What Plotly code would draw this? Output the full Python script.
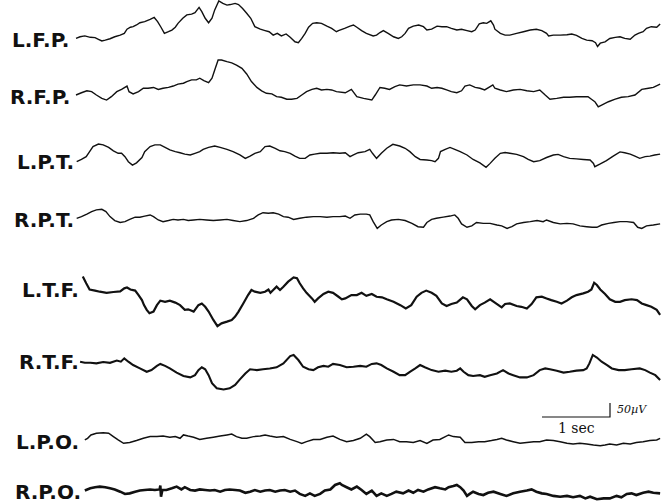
import plotly.graph_objects as go

# ---- EEG channel data: time (s) and amplitude (µV) at each traced vertex ----
CHANNELS = ["L.F.P.", "R.F.P.", "L.P.T.", "R.P.T.", "L.T.F.", "R.T.F.", "L.P.O.", "R.P.O."]

LFP_T = [0.00, 0.06, 0.13, 0.21, 0.28, 0.33, 0.38, 0.43, 0.50, 0.57, 0.65, 0.71, 0.75, 0.80, 0.84,
         0.89, 0.94, 1.01, 1.09, 1.15, 1.20, 1.25, 1.30, 1.36, 1.41, 1.46, 1.50, 1.57, 1.63, 1.70,
         1.75, 1.81, 1.85, 1.90, 1.95, 2.00, 2.04, 2.10, 2.16, 2.22, 2.27, 2.34, 2.39, 2.45, 2.51,
         2.57, 2.63, 2.71, 2.78, 2.84, 2.90, 2.96, 3.02, 3.09, 3.15, 3.22, 3.27, 3.32, 3.37, 3.42,
         3.48, 3.54, 3.61, 3.69, 3.76, 3.83,
         3.86, 3.95, 4.03, 4.08, 4.13, 4.20, 4.27, 4.37, 4.42, 4.47, 4.52, 4.59, 4.67, 4.74, 4.79,
         4.84, 4.89, 4.96, 5.04, 5.11, 5.16, 5.23, 5.31, 5.38, 5.45, 5.52, 5.60, 5.67, 5.75, 5.82,
         5.87, 5.93, 5.99, 6.04, 6.10, 6.14, 6.16, 6.24, 6.31, 6.38, 6.48, 6.58, 6.68, 6.77, 6.85,
         6.92, 6.95, 7.02, 7.12, 7.22, 7.29, 7.36, 7.44, 7.51, 7.59, 7.64, 7.67, 7.71, 7.78, 7.85,
         7.93, 8.00, 8.07, 8.15, 8.22, 8.27, 8.34, 8.39, 8.46, 8.54, 8.59]
LFP_UV = [2, 8, 11, 6, 5, -1, -7, -4, 1, 8, 14, 20, 35, 42, 44,
          50, 58, 62, 70, 77, 62, 42, 20, 26, 32, 42, 56, 74, 86, 89,
          94, 113, 98, 74, 58, 74, 104, 136, 127, 121, 123, 127, 123, 109, 92,
          74, 44, 35, 30, 26, 14, 20, 11, 18, 6, -10, -13, 2, 20, 42,
          56, 58, 56, 46, 38, 26,
          30, 38, 46, 50, 42, 30, 20, 11, 14, 23, 30, 20, 8, 2, 8,
          20, 38, 46, 50, 44, 32, 35, 46, 44, 44, 38, 32, 35, 30, 26,
          32, 54, 58, 56, 65, 50, 35, 20, 14, 14, 20, 26, 32, 35, 30,
          20, 11, 14, 14, 15, 18, 13, 2, -4, -6, -13, -27, -15, -10, 2,
          6, 8, 2, -1, 14, 20, 26, 38, 44, 42, 54]

RFP_T = [0.00, 0.08, 0.16, 0.23, 0.30, 0.38, 0.45, 0.52, 0.60, 0.67, 0.75, 0.78, 0.84, 0.92, 0.99,
         1.06, 1.14, 1.21, 1.28, 1.36, 1.43, 1.50, 1.58, 1.63, 1.70, 1.77, 1.82, 1.88, 1.95, 2.00,
         2.04, 2.09, 2.14, 2.22, 2.29, 2.36, 2.44, 2.51, 2.58, 2.66, 2.73, 2.80, 2.88, 2.95, 3.02,
         3.10, 3.17, 3.25, 3.32, 3.39, 3.47, 3.54, 3.61, 3.69, 3.76, 3.83,
         3.96, 4.05, 4.13, 4.23, 4.35, 4.40, 4.47, 4.54, 4.61, 4.69, 4.76, 4.86, 4.96, 5.06, 5.16,
         5.23, 5.31, 5.38, 5.45, 5.52, 5.60, 5.67, 5.72, 5.79, 5.87, 5.94, 6.01, 6.09, 6.13, 6.16,
         6.24, 6.33, 6.43, 6.53, 6.63, 6.73, 6.82, 6.90, 6.97, 7.07, 7.17, 7.26, 7.36, 7.46, 7.53,
         7.58, 7.63, 7.68, 7.73, 7.83, 7.93, 8.02, 8.12, 8.22, 8.32, 8.42, 8.49, 8.59]
RFP_UV = [0, 8, 15, 12, 0, -12, -18, -6, 12, 20, 32, 12, 4, 12, 24,
          24, 27, 20, 24, 27, 32, 39, 42, 48, 54, 54, 60, 51, 44, 60,
          89, 125, 125, 119, 115, 107, 95, 75, 48, 27, 15, 6, 4, -6, -8,
          -15, -15, -12, 0, 12, 20, 24, 18, 20, 18, 12,
          8, 20, -6, -12, -18, 0, 27, 24, 20, 30, 36, 32, 36, 36, 32,
          24, 27, 24, 18, 12, 8, 15, 32, 36, 27, 24, 18, 30, 36, 24,
          18, 12, 18, 20, 15, 12, 18, 0, -15, -12, -8, -8, -6, -6, -6,
          -15, -24, -42, -36, -24, -15, -8, -6, 0, 20, 24, 27, 39]

LPT_T = [0.01, 0.08, 0.15, 0.20, 0.25, 0.33, 0.40, 0.48, 0.55, 0.62, 0.67, 0.72, 0.77, 0.83, 0.89,
         0.97, 1.01, 1.09, 1.16, 1.24, 1.31, 1.38, 1.46, 1.53, 1.60, 1.68, 1.75, 1.82, 1.87, 1.95,
         2.04, 2.12, 2.22, 2.31, 2.41, 2.49, 2.56, 2.63, 2.71, 2.78, 2.85, 2.93, 3.00, 3.07, 3.15,
         3.22, 3.29, 3.37, 3.44, 3.51, 3.59, 3.69, 3.78,
         3.88, 3.96, 4.03, 4.08, 4.15, 4.25, 4.32, 4.36, 4.42, 4.49, 4.57, 4.66, 4.76, 4.84, 4.91,
         4.99, 5.06, 5.16, 5.23, 5.28, 5.33, 5.36, 5.43, 5.50, 5.57, 5.65, 5.75, 5.84, 5.94, 6.03,
         6.09, 6.16, 6.24, 6.31, 6.38, 6.48, 6.58, 6.65, 6.73, 6.82, 6.92, 7.02, 7.09, 7.17, 7.26,
         7.36, 7.46, 7.56, 7.61, 7.63, 7.71, 7.80, 7.90, 8.00, 8.07, 8.15, 8.22, 8.29, 8.37, 8.44,
         8.51, 8.59]
LPT_UV = [0, 8, 18, 36, 54, 63, 60, 51, 39, 30, 30, 18, 0, -12, -4,
          15, 36, 54, 60, 60, 51, 42, 36, 32, 27, 24, 30, 36, 44, 51,
          56, 51, 44, 36, 24, 12, 20, 30, 36, 54, 56, 48, 39, 36, 30,
          20, 12, 12, 24, 27, 30, 30, 32,
          30, 32, 18, 24, 32, 36, 44, 30, 12, 30, 48, 62, 56, 48, 36,
          18, 8, 6, 4, 0, 12, 36, 44, 51, 44, 36, 24, 8, -4, -20,
          -6, 12, 30, 33, 30, 26, 18, 8, 0, 4, 15, 24, 26, 18, 12,
          10, 8, 6, -6, -18, -8, 4, 20, 35, 32, 27, 20, 12, 18, 20,
          24, 27]

RPT_T = [0.01, 0.08, 0.16, 0.23, 0.30, 0.38, 0.44, 0.50, 0.57, 0.65, 0.72, 0.79, 0.87, 0.94, 1.01,
         1.09, 1.14, 1.21, 1.28, 1.36, 1.43, 1.50, 1.58, 1.65, 1.73, 1.82, 1.92, 2.02, 2.12, 2.22,
         2.31, 2.41, 2.51, 2.61, 2.68, 2.75, 2.83, 2.90, 2.98, 3.05, 3.12, 3.20, 3.29, 3.39, 3.49,
         3.59, 3.69, 3.78,
         3.88, 3.96, 4.03, 4.10, 4.18, 4.27, 4.32, 4.37, 4.43, 4.49, 4.57, 4.64, 4.74, 4.84, 4.94,
         5.03, 5.11, 5.16, 5.23, 5.30, 5.40, 5.50, 5.57, 5.62, 5.67, 5.75, 5.82, 5.89, 5.99, 6.09,
         6.19, 6.26, 6.34, 6.41, 6.48, 6.58, 6.68, 6.78, 6.87, 6.92, 7.02, 7.12, 7.22, 7.31, 7.41,
         7.51, 7.59, 7.66, 7.73, 7.83, 7.91, 8.00, 8.10, 8.20, 8.26, 8.32, 8.39, 8.49, 8.59]
RPT_UV = [0, 6, 15, 24, 30, 32, 24, 6, -8, -15, -12, -4, 4, 4, 8,
          12, 6, -6, -12, -8, -4, -6, -4, -8, -6, -4, -6, -8, -6, -4,
          -8, -12, -8, 0, 12, 20, 18, 20, 15, 6, 4, -4, 0, 4, 6,
          6, 4, 6,
          6, 8, 0, 12, 15, 15, 12, -12, -36, -24, -12, -6, -4, -8, -18,
          -30, -32, -15, -4, 0, 4, 8, 12, 0, -20, -32, -27, -15, -18, -18,
          -24, -27, -36, -30, -20, -15, -12, -8, -12, -6, -15, -20, -18, -20, -27,
          -30, -32, -32, -24, -18, -15, -12, -12, -15, -32, -36, -27, -24, -20]

LTF_T = [0.10, 0.15, 0.20, 0.28, 0.35, 0.45, 0.55, 0.65, 0.71, 0.75, 0.80, 0.87, 0.92, 0.97, 1.00,
         1.04, 1.08, 1.14, 1.19, 1.24, 1.31, 1.38, 1.46, 1.53, 1.60, 1.65, 1.73, 1.80, 1.85, 1.90,
         1.95, 2.02, 2.08, 2.14, 2.22, 2.29, 2.34, 2.39, 2.46, 2.53, 2.58, 2.63, 2.71, 2.78, 2.83,
         2.86, 2.90, 2.95, 3.00, 3.05, 3.12, 3.20, 3.25, 3.29, 3.34, 3.39, 3.47, 3.51, 3.56, 3.64,
         3.71, 3.78, 3.86,
         3.91, 3.96, 4.05, 4.13, 4.20, 4.27, 4.35, 4.42, 4.50, 4.57, 4.67, 4.77, 4.85, 4.93, 5.01,
         5.08, 5.15, 5.23, 5.30, 5.38, 5.45, 5.52, 5.60, 5.69, 5.75, 5.82, 5.87, 5.94, 6.01, 6.09,
         6.16, 6.26, 6.31, 6.38, 6.48, 6.55, 6.63, 6.70, 6.77, 6.85, 6.92, 6.99, 7.07, 7.14, 7.22,
         7.29, 7.36, 7.46, 7.53, 7.58, 7.62, 7.66, 7.71, 7.78, 7.85, 7.93, 8.00, 8.07, 8.17, 8.25,
         8.32, 8.39, 8.46, 8.54, 8.59]
LTF_UV = [54, 30, 8, 4, 0, -4, -1, 1, 12, 15, 8, 4, -12, -30, -48,
          -65, -77, -71, -48, -32, -36, -32, -39, -48, -65, -63, -71, -48, -42, -54,
          -71, -101, -123, -113, -107, -101, -89, -71, -42, -12, 6, 0, -4, 0, 8,
          -4, 6, 18, 6, 18, 36, 51, 48, 30, 12, -4, -24, -36, -24, -8,
          0, -4, -18,
          -27, -24, -12, -12, -4, -15, -8, -18, -20, -27, -36, -48, -60, -48, -18,
          -4, 4, -4, -15, -42, -51, -44, -39, -20, -27, -51, -63, -48, -39, -27,
          -39, -56, -44, -42, -51, -54, -60, -44, -20, -18, -24, -30, -36, -42, -32,
          -20, -12, -6, 0, 8, 32, 24, 8, -8, -27, -36, -36, -30, -27, -30,
          -42, -48, -54, -65, -83]

RTF_T = [0.06, 0.13, 0.21, 0.30, 0.40, 0.50, 0.60, 0.66, 0.71, 0.77, 0.84, 0.94, 1.04, 1.11, 1.19,
         1.24, 1.31, 1.38, 1.48, 1.58, 1.68, 1.75, 1.80, 1.85, 1.90, 1.95, 2.00, 2.07, 2.17, 2.26,
         2.34, 2.41, 2.49, 2.56, 2.66, 2.75, 2.85, 2.95, 3.05, 3.15, 3.20, 3.27, 3.34, 3.42, 3.49,
         3.56, 3.64, 3.71, 3.78,
         3.88, 3.98, 4.08, 4.18, 4.27, 4.35, 4.42, 4.49, 4.57, 4.67, 4.76, 4.84, 4.91, 4.99, 5.06,
         5.13, 5.23, 5.33, 5.43, 5.52, 5.60, 5.65, 5.70, 5.77, 5.84, 5.94, 6.01, 6.09, 6.19, 6.28,
         6.36, 6.43, 6.53, 6.63, 6.73, 6.82, 6.90, 6.97, 7.07, 7.17, 7.26, 7.36, 7.46, 7.51, 7.55,
         7.60, 7.66, 7.73, 7.81, 7.88, 7.98, 8.07, 8.17, 8.29, 8.37, 8.44, 8.52, 8.59]
RTF_UV = [0, -4, -4, -6, -1, -4, 4, 0, 12, 0, -12, -24, -36, -30, -15,
          -8, -15, -24, -39, -51, -56, -48, -30, -20, -27, -48, -77, -95, -99, -95,
          -83, -63, -42, -27, -30, -27, -24, -20, -6, 20, 24, 6, -18, -27, -30,
          -20, -15, -18, -8,
          -12, -20, -18, -15, -18, -8, -6, -12, -24, -36, -48, -48, -36, -24, -12,
          -20, -30, -36, -32, -36, -32, -24, -36, -48, -51, -48, -54, -48, -42, -30,
          -42, -48, -56, -56, -48, -30, -24, -27, -32, -39, -36, -32, -30, -24, -6,
          24, 15, 0, -12, -24, -30, -30, -27, -24, -30, -39, -48, -65]

LPO_T = [0.13, 0.17, 0.22, 0.30, 0.40, 0.48, 0.55, 0.62, 0.70, 0.79, 0.89, 0.99, 1.09, 1.19, 1.28,
         1.38, 1.46, 1.53, 1.58, 1.65, 1.73, 1.82, 1.92, 2.02, 2.12, 2.22, 2.29, 2.36, 2.44, 2.51,
         2.61, 2.71, 2.78, 2.85, 2.95, 3.05, 3.15, 3.25, 3.32, 3.39, 3.49, 3.59, 3.69, 3.78,
         3.88, 3.98, 4.08, 4.18, 4.27, 4.32, 4.40, 4.47, 4.57, 4.67, 4.76, 4.86, 4.96, 5.06, 5.16,
         5.25, 5.35, 5.48, 5.55, 5.65, 5.72, 5.82, 5.92, 6.01, 6.11, 6.19, 6.26, 6.33, 6.43, 6.53,
         6.63, 6.73, 6.82, 6.92, 7.02, 7.12, 7.22, 7.31, 7.41, 7.51, 7.61, 7.71, 7.78, 7.85, 7.95,
         8.05, 8.15, 8.24, 8.34, 8.44, 8.54, 8.59]
LPO_UV = [-6, 0, 12, 18, 20, 18, 6, -6, -18, -15, -8, 0, 6, 6, 8,
          4, 6, 0, 12, 8, 4, -4, 0, 4, 8, 12, 15, 6, 0, 0,
          6, 8, 12, 8, 4, 6, -4, -12, -18, -12, -4, -4, 4, 8,
          -4, -12, -8, 0, 15, 6, -15, -12, -6, -4, -12, -12, -15, -8, -18,
          -6, -4, 12, 6, 4, -15, -15, -12, -12, -8, -4, 0, -6, -12, -18,
          -15, -12, -12, -6, -8, -12, -18, -20, -18, -20, -24, -27, -24, -20, -24,
          -18, -20, -15, -12, -8, -6, 0]

RPO_T = [0.13, 0.21, 0.28, 0.35, 0.43, 0.50, 0.57, 0.65, 0.72, 0.79, 0.87, 0.94, 1.01, 1.09, 1.16,
         1.23, 1.24, 1.25, 1.27, 1.33, 1.41, 1.48, 1.55, 1.60, 1.68, 1.75, 1.82, 1.90, 1.97, 2.04,
         2.12, 2.19, 2.26, 2.34, 2.41, 2.49, 2.56, 2.63, 2.71, 2.78, 2.85, 2.93, 3.00, 3.07, 3.15,
         3.22, 3.29, 3.37, 3.44, 3.51, 3.59, 3.66, 3.74, 3.81, 3.88,
         3.91, 3.98, 4.05, 4.13, 4.20, 4.27, 4.35, 4.42, 4.49, 4.57, 4.64, 4.71, 4.81, 4.89, 4.96,
         5.03, 5.11, 5.18, 5.28, 5.35, 5.43, 5.48, 5.55, 5.60, 5.65, 5.70, 5.75, 5.79, 5.84, 5.92,
         5.99, 6.06, 6.14, 6.24, 6.33, 6.43, 6.53, 6.63, 6.70, 6.77, 6.85, 6.92, 7.02, 7.12, 7.22,
         7.31, 7.41, 7.49, 7.56, 7.66, 7.76, 7.85, 7.95, 8.02, 8.10, 8.17, 8.24, 8.34, 8.42, 8.49,
         8.59]
RPO_UV = [-2, 6, 10, 12, 10, 6, 2, -6, -14, -12, -6, -2, 0, 2, 0,
          2, 16, -24, 0, 0, 6, 12, 2, 10, 0, -2, 2, 0, -2, 0,
          -6, 0, 2, 0, -2, -10, -6, 0, -6, -2, 0, -6, -2, 0, -6,
          -2, -14, -21, -12, -21, -14, -2, 2, 18, 24,
          18, 10, 2, 12, 0, -14, -2, -21, -12, -21, -14, -6, -12, -2, -10,
          0, -6, 2, 10, 6, 2, 10, 14, 18, 10, -2, -21, -14, -6, -14,
          -18, -10, -6, -14, -21, -12, -6, -2, 2, -6, -12, -14, -21, -24, -21,
          -26, -21, -30, -24, -33, -30, -30, -21, -26, -14, -12, -18, -10, -6, -10,
          -12]

SERIES = [(LFP_T, LFP_UV), (RFP_T, RFP_UV), (LPT_T, LPT_UV), (RPT_T, RPT_UV),
          (LTF_T, LTF_UV), (RTF_T, RTF_UV), (LPO_T, LPO_UV), (RPO_T, RPO_UV)]

# Calibration bar values
SCALE_SEC = 1.0
SCALE_UV = 50
SCALE_TEXT_T = "1 sec"
SCALE_TEXT_V = "50µV"

# ---- page geometry ----
W, H = 661, 503
PX_PER_SEC = 68.0          # paper speed on the page
UV_PER_PX = 50.0 / 14.0    # gain on the page
T_ORIGIN_PX = 76           # left edge of the recording
ROW_PX = [39, 95, 161.7, 218.3, 291.7, 361.7, 438.3, 490]       # channel baselines
LABEL_RIGHT_PX = [71, 72, 76, 76, 81, 81, 81, 83]
LABEL_MID_PX = [40, 97, 162, 220, 290, 362, 442, 492]
LINE_W = [1.4, 1.4, 1.4, 1.4, 2.2, 2.1, 1.5, 2.6]

fig = go.Figure()

for i, (t, uv) in enumerate(SERIES):
    base = -ROW_PX[i] * UV_PER_PX
    fig.add_trace(go.Scatter(
        x=t, y=[base + v for v in uv], mode="lines",
        line=dict(color="#111111", width=LINE_W[i], simplify=False),
        hoverinfo="skip", showlegend=False, name=CHANNELS[i]))
    fig.add_annotation(
        x=LABEL_RIGHT_PX[i] / W, xref="paper", xanchor="right",
        y=1 - LABEL_MID_PX[i] / H, yref="paper", yanchor="middle",
        text=CHANNELS[i], showarrow=False,
        font=dict(family="DejaVu Sans", size=20, color="#111111", weight="bold"))

# Calibration bar: 1 s horizontal, 50 µV vertical
bar_t0 = (542 - T_ORIGIN_PX) / PX_PER_SEC
bar_y0 = -417 * UV_PER_PX
fig.add_trace(go.Scatter(
    x=[bar_t0, bar_t0 + SCALE_SEC, bar_t0 + SCALE_SEC],
    y=[bar_y0, bar_y0, bar_y0 + SCALE_UV],
    mode="lines", line=dict(color="#111111", width=1.2),
    hoverinfo="skip", showlegend=False))
fig.add_annotation(
    x=bar_t0 + SCALE_SEC / 2, y=bar_y0, yshift=-11, xref="x", yref="y",
    text=SCALE_TEXT_T, showarrow=False,
    font=dict(family="DejaVu Serif", size=14, color="#111111"))
fig.add_annotation(
    x=bar_t0 + SCALE_SEC, y=bar_y0 + SCALE_UV * 0.55, xshift=5, xref="x", yref="y",
    xanchor="left", text="<i>" + SCALE_TEXT_V + "</i>", showarrow=False,
    font=dict(family="DejaVu Serif", size=11, color="#111111"))

fig.update_layout(
    width=W, height=H, margin=dict(l=0, r=0, t=0, b=0),
    paper_bgcolor="white", plot_bgcolor="white",
    xaxis=dict(range=[-T_ORIGIN_PX / PX_PER_SEC, (W - T_ORIGIN_PX) / PX_PER_SEC],
               visible=False, fixedrange=True),
    yaxis=dict(range=[-H * UV_PER_PX, 0], visible=False, fixedrange=True),
)

fig.write_html("out.html")
